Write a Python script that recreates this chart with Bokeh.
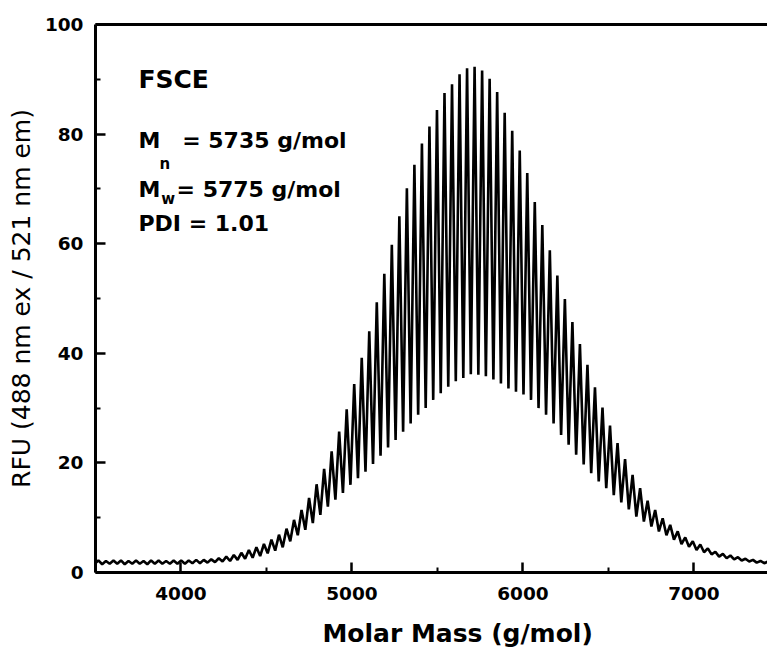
from bokeh.plotting import figure
from bokeh.models import Range1d, LinearAxis, FixedTicker, Label
from bokeh.embed import file_html
from bokeh.resources import INLINE

# ---- data ----
# oligomer peak positions (g/mol), repeat unit 44 g/mol
peak_mass = [3517, 3561, 3605, 3649, 3693, 3737, 3781, 3825, 3869, 3913,
             3957, 4001, 4045, 4089, 4133, 4177, 4221, 4265, 4309, 4353,
             4397, 4441, 4485, 4529, 4573, 4617, 4661, 4705, 4749, 4793,
             4837, 4881, 4925, 4969, 5013, 5057, 5101, 5145, 5189, 5233,
             5277, 5321, 5365, 5409, 5453, 5497, 5541, 5585, 5629, 5673,
             5717, 5761, 5805, 5849, 5893, 5937, 5981, 6025, 6069, 6113,
             6157, 6201, 6245, 6289, 6333, 6377, 6421, 6465, 6509, 6553,
             6597, 6641, 6685, 6729, 6773, 6817, 6861, 6905, 6949, 6993,
             7037, 7081, 7125, 7169, 7213, 7257, 7301, 7345, 7389, 7433]

peak_height = [2.2, 2.1, 2.2, 2.2, 2.1, 2.2, 2.1, 2.2, 2.2, 2.1, 2.2, 2.2, 2.2, 2.3,
               2.3, 2.4, 2.6, 2.9, 3.2, 3.6, 4.1, 4.6, 5.2, 6.0, 6.9, 8.0, 9.6, 11.4,
               13.6, 16.1, 18.9, 22.1, 25.7, 29.8, 34.4, 39.2, 44.0, 49.3, 54.5, 59.8, 65.0,
               70.1, 74.4, 78.3, 81.4, 84.4, 87.5, 89.1, 90.9, 92.0,
               92.3, 91.6, 90.1, 87.7, 83.9, 80.6, 77.0, 72.9, 67.6, 63.4, 58.8, 54.2, 49.9, 45.7, 41.7,
               37.9, 33.8, 30.1, 26.8, 23.6, 20.7, 17.8, 15.4, 13.1, 11.4, 9.9, 8.7, 7.5, 6.4, 5.7,
               5.1, 4.4, 3.8, 3.4, 3.1, 2.8, 2.5, 2.3, 2.1, 2.0]

# valley just before each peak
trough_height = [1.6, 1.5, 1.6, 1.6, 1.5, 1.6, 1.6, 1.5, 1.6, 1.6, 1.6, 1.6, 1.6, 1.7,
                 1.7, 1.8, 1.9, 2.0, 2.1, 2.3, 2.5, 2.7, 3.0, 3.5, 4.0, 4.6, 5.7, 6.8,
                 7.8, 9.0, 10.5, 12.0, 13.3, 14.5, 16.0, 17.2, 18.4, 19.8, 21.3, 22.8, 24.2,
                 25.7, 27.2, 28.8, 30.0, 31.5, 32.7, 33.9, 34.9, 35.5,
                 36.2, 36.1, 35.8, 35.2, 34.5, 33.6, 33.0, 32.5, 31.5, 30.0, 28.8, 27.2, 25.1, 23.3, 21.5,
                 19.7, 18.1, 16.6, 15.4, 14.1, 12.8, 11.5, 10.2, 9.3, 8.4, 7.5, 6.8, 6.0, 5.2, 4.7,
                 4.1, 3.7, 3.3, 2.9, 2.6, 2.4, 2.2, 2.0, 1.8, 1.7]
end_trough = 1.6
half_unit = 22  # half of the 44 g/mol repeat unit

x_ticks = [4000, 5000, 6000, 7000]
x_minor = [3500, 4500, 5500, 6500, 7500]
y_ticks = [0, 20, 40, 60, 80, 100]
y_minor = [10, 30, 50, 70, 90]

xs, ys = [], []
for m, pk, tr in zip(peak_mass, peak_height, trough_height):
    xs += [m - half_unit, m]
    ys += [tr, pk]
xs.append(peak_mass[-1] + half_unit)
ys.append(end_trough)

FONT = "DejaVu Sans"

p = figure(width=767, height=650, x_range=Range1d(3500, 7430), y_range=Range1d(0, 100),
           output_backend="svg", toolbar_location=None,
           min_border_left=95, min_border_right=0, min_border_top=24, min_border_bottom=78)
p.background_fill_color = "white"
p.border_fill_color = "white"
p.outline_line_color = None
p.xgrid.visible = False
p.ygrid.visible = False

p.line(xs, ys, line_color="black", line_width=2.6)

def style_axis(ax):
    ax.axis_line_width = 3
    ax.axis_line_color = "black"
    ax.major_tick_in = 10
    ax.major_tick_out = 0
    ax.minor_tick_in = 5
    ax.minor_tick_out = 0
    ax.major_tick_line_width = 2.5
    ax.minor_tick_line_width = 2
    ax.major_tick_line_color = "black"
    ax.minor_tick_line_color = "black"
    ax.major_label_text_font = FONT
    ax.major_label_text_font_style = "bold"
    ax.major_label_text_font_size = "18.5px"
    ax.major_label_text_color = "black"

xa = p.xaxis[0]
xa.ticker = FixedTicker(ticks=x_ticks, minor_ticks=x_minor)
style_axis(xa)
xa.major_label_standoff = 14
# leading no-break spaces move the title right, as it sits in the reference
xa.axis_label = "\u00a0" * 6 + "Molar Mass (g/mol)"
xa.axis_label_text_font = FONT
xa.axis_label_text_font_style = "bold"
xa.axis_label_text_font_size = "25px"
xa.axis_label_text_color = "black"
xa.axis_label_standoff = 16

ya = p.yaxis[0]
ya.ticker = FixedTicker(ticks=y_ticks, minor_ticks=y_minor)
style_axis(ya)
ya.major_label_standoff = 12
ya.axis_label = "RFU (488 nm ex / 521 nm em)"
ya.axis_label_text_font = FONT
ya.axis_label_text_font_style = "normal"
ya.axis_label_text_font_size = "25px"
ya.axis_label_text_color = "black"
ya.axis_label_standoff = 6

top = LinearAxis(ticker=FixedTicker(ticks=[]), axis_line_width=3, axis_line_color="black",
                 major_tick_line_color=None, minor_tick_line_color=None,
                 major_label_text_font_size="0px")
p.add_layout(top, "above")

def lab(x, y, text, size, style="bold", align="left"):
    p.add_layout(Label(x=x, y=y, text=text, text_font=FONT, text_font_style=style,
                       text_font_size=size, text_color="black",
                       text_align=align, text_baseline="alphabetic"))

lab(3751, 90.0, "FSCE", "25px")
lab(3751, 78.8, "M", "22px")
lab(3874, 74.6, "n", "15px")
lab(4007, 78.8, "= 5735 g/mol", "22px")
lab(3751, 69.8, "M", "22px")
lab(3884, 68.2, "w", "15px")
lab(3974, 69.8, "= 5775 g/mol", "22px")
lab(3751, 63.7, "PDI = 1.01", "22px")

open("out.html", "w").write(file_html(p, INLINE))
